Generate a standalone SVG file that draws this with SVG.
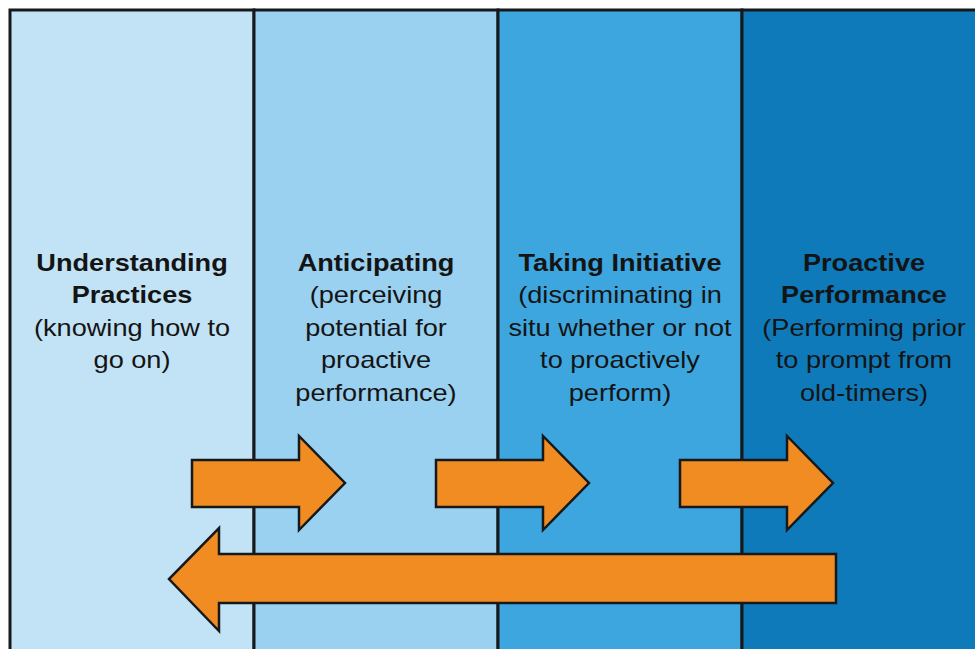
<svg xmlns="http://www.w3.org/2000/svg" width="975" height="649" viewBox="0 0 975 649">
  <style>
    .col { stroke: #16191c; stroke-width: 3; }
    .arrow { fill: #f08c22; stroke: #16191c; stroke-width: 2.5; stroke-linejoin: miter; }
    .t { font-family: "Liberation Sans", Arial, sans-serif; font-size: 23px; fill: #141414; text-anchor: middle; }
    .b { font-weight: bold; }
  </style>

  <rect width="975" height="649" fill="#ffffff"/>

  <!-- stage columns -->
  <g id="stage-understanding">
    <rect class="col" x="10" y="10" width="244" height="645" fill="#c2e3f5"/>
    <g transform="translate(132 0) scale(1.18 1)">
      <text class="t b" x="0" y="271">Understanding</text>
      <text class="t b" x="0" y="303">Practices</text>
      <text class="t" x="0" y="336">(knowing how to</text>
      <text class="t" x="0" y="368">go on)</text>
    </g>
  </g>

  <g id="stage-anticipating">
    <rect class="col" x="254" y="10" width="244" height="645" fill="#9ad0f0"/>
    <g transform="translate(376 0) scale(1.18 1)">
      <text class="t b" x="0" y="271">Anticipating</text>
      <text class="t" x="0" y="303">(perceiving</text>
      <text class="t" x="0" y="336">potential for</text>
      <text class="t" x="0" y="368">proactive</text>
      <text class="t" x="0" y="401">performance)</text>
    </g>
  </g>

  <g id="stage-initiative">
    <rect class="col" x="498" y="10" width="244" height="645" fill="#3ea6de"/>
    <g transform="translate(620 0) scale(1.18 1)">
      <text class="t b" x="0" y="271">Taking Initiative</text>
      <text class="t" x="0" y="303">(discriminating in</text>
      <text class="t" x="0" y="336">situ whether or not</text>
      <text class="t" x="0" y="368">to proactively</text>
      <text class="t" x="0" y="401">perform)</text>
    </g>
  </g>

  <g id="stage-performance">
    <rect class="col" x="742" y="10" width="260" height="645" fill="#0f7aba"/>
    <g transform="translate(864 0) scale(1.18 1)">
      <text class="t b" x="0" y="271">Proactive</text>
      <text class="t b" x="0" y="303">Performance</text>
      <text class="t" x="0" y="336">(Performing prior</text>
      <text class="t" x="0" y="368">to prompt from</text>
      <text class="t" x="0" y="401">old-timers)</text>
    </g>
  </g>

  <!-- progression and return arrows -->
  <g id="connectors">
    <polygon class="arrow" points="192,460 299,460 299,436 345,483 299,530 299,507 192,507"/>
    <polygon class="arrow" points="436,460 543,460 543,436 589,483 543,530 543,507 436,507"/>
    <polygon class="arrow" points="680,460 787,460 787,436 833,483 787,530 787,507 680,507"/>
    <polygon class="arrow" points="836,554 219,554 219,528 169,579 219,631 219,603 836,603"/>
  </g>
</svg>
